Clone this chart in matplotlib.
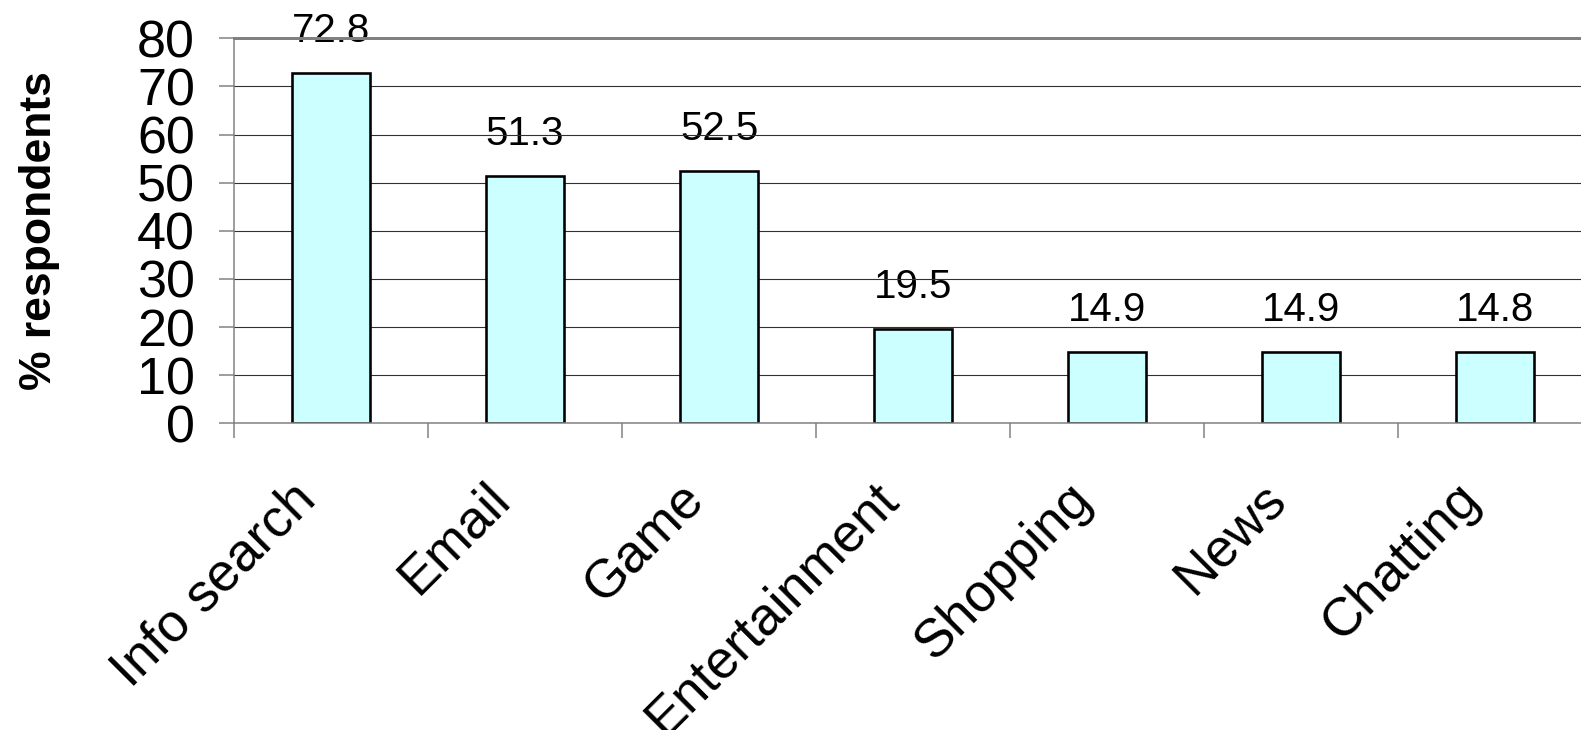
import matplotlib
matplotlib.use("Agg")
import matplotlib.pyplot as plt
from matplotlib.ticker import FixedLocator, NullFormatter
import matplotlib.transforms as mtransforms

plt.rcParams['font.family'] = ['Liberation Sans', 'DejaVu Sans']

categories = ["Info search", "Email", "Game", "Entertainment", "Shopping", "News", "Chatting"]
values = [72.8, 51.3, 52.5, 19.5, 14.9, 14.9, 14.8]
y_ticks = [0, 10, 20, 30, 40, 50, 60, 70, 80]

W, H, DPI = 1581, 730, 100
PX = 72 / DPI  # points per pixel
fig = plt.figure(figsize=(W / DPI, H / DPI), dpi=DPI)
fig.patch.set_facecolor("white")

# plot area runs slightly past the right edge of the canvas
ax = fig.add_axes([234 / W, (H - 423.3) / H, 7 * 194 / W, (423.3 - 38.3) / H])

n = len(categories)
centers = [i + 0.5 for i in range(n)]
ax.bar(centers, values, width=0.4, color="#CCFFFF", edgecolor="black",
       linewidth=2.6 * PX, zorder=2)

ax.set_xlim(0, n)
ax.set_ylim(0, 80)

# horizontal gridlines
ax.set_yticks(y_ticks)
ax.yaxis.grid(True, color="#303030", linewidth=1.1 * PX, zorder=1)
ax.set_axisbelow(True)
ax.tick_params(axis="y", direction="out", length=15 * PX, width=1.5 * PX,
               color="#808080", labelsize=37.5, pad=24 * PX)

# category labels at centres, tick marks at category boundaries
ax.xaxis.set_major_locator(FixedLocator(centers))
ax.set_xticklabels(categories)
ax.xaxis.set_minor_locator(FixedLocator(list(range(n + 1))))
ax.xaxis.set_minor_formatter(NullFormatter())
ax.tick_params(axis="x", which="major", length=0, labelsize=38.5, pad=0)
ax.tick_params(axis="x", which="minor", direction="out", length=15 * PX,
               width=1.5 * PX, color="#808080")
offset = mtransforms.ScaledTranslation(-23 / DPI, -68 / DPI, fig.dpi_scale_trans)
for lab in ax.get_xticklabels():
    lab.set_rotation(45)
    lab.set_ha("right")
    lab.set_va("center")
    lab.set_rotation_mode("anchor")
    lab.set_transform(lab.get_transform() + offset)

for side in ("left", "bottom"):
    ax.spines[side].set_color("#808080")
    ax.spines[side].set_linewidth(1.5 * PX)
ax.spines["top"].set_color("#808080")
ax.spines["top"].set_linewidth(3 * PX)
ax.spines["right"].set_visible(False)

ax.set_ylabel("% respondents", fontsize=32, fontweight="bold", labelpad=0,
              va="center")
ax.yaxis.set_label_coords(-(234 - 40) / 1358, 0.5)

# value labels above each bar
for x, v in zip(centers, values):
    ax.annotate(f"{v:.1f}", xy=(x, v), xytext=(0, 31 * PX), textcoords="offset points",
                ha="center", va="baseline", fontsize=29, zorder=0.3,
                annotation_clip=False)

fig.savefig("out.png", dpi=DPI)
